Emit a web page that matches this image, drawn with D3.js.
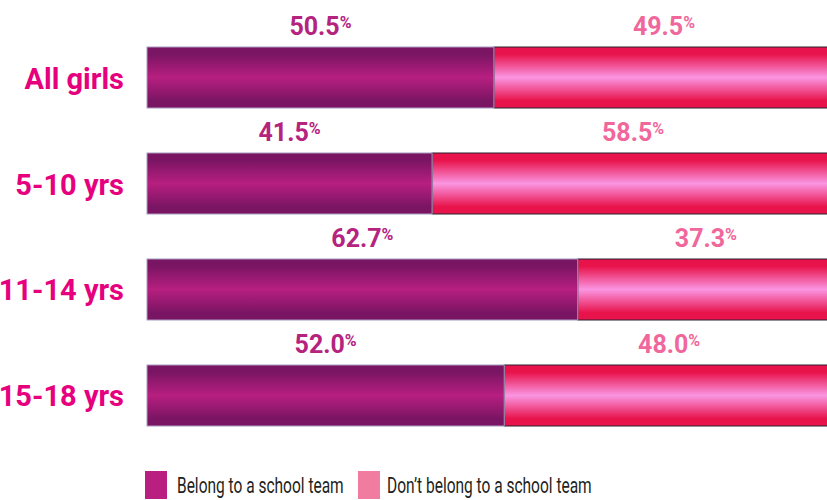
<!DOCTYPE html>
<html>
<head>
<meta charset="utf-8">
<script src="https://cdn.jsdelivr.net/npm/d3@7"></script>
<style>
  html, body { margin: 0; padding: 0; background: #fff; }
  svg { display: block; }
</style>
</head>
<body>
<svg id="chart" width="827" height="500"></svg>
<script>
// Share of girls who belong to a school team, by age group
const categories = ["All girls", "5-10 yrs", "11-14 yrs", "15-18 yrs"];
const belong = [50.5, 41.5, 62.7, 52.0];
const notBelong = [49.5, 58.5, 37.3, 48.0];
const seriesNames = ["Belong to a school team", "Don\u2019t belong to a school team"];

const svg = d3.select("#chart");
const defs = svg.append("defs");

// Glossy vertical gradients for the two segments
function glossy(id, edge, mid) {
  const g = defs.append("linearGradient").attr("id", id)
    .attr("x1", 0).attr("y1", 0).attr("x2", 0).attr("y2", 1);
  g.append("stop").attr("offset", "0%").attr("stop-color", edge);
  g.append("stop").attr("offset", "12%").attr("stop-color", edge);
  g.append("stop").attr("offset", "50%").attr("stop-color", mid);
  g.append("stop").attr("offset", "88%").attr("stop-color", edge);
  g.append("stop").attr("offset", "100%").attr("stop-color", edge);
}
glossy("gradBelong", "#7a1563", "#b71f80");
glossy("gradNot", "#e8134b", "#fa95e2");

const x = d3.scaleLinear().domain([0, 100]).range([147, 834]);
const y = d3.scaleBand().domain(categories).range([47, 426]).paddingInner(0.4245).paddingOuter(0);

const rows = categories.map((c, i) => ({ cat: c, a: belong[i], b: notBelong[i] }));

const g = svg.append("g");
const row = g.selectAll("g.row").data(rows).join("g").attr("class", "row");

// Pink segment (drawn first so the purple edge sits above it)
row.append("rect")
  .attr("x", d => x(d.a))
  .attr("y", d => y(d.cat))
  .attr("width", d => x(d.a + d.b) - x(d.a))
  .attr("height", y.bandwidth())
  .attr("fill", "url(#gradNot)")
  .attr("stroke", "#2b2233")
  .attr("stroke-width", 1);

row.append("rect")
  .attr("x", x(0))
  .attr("y", d => y(d.cat))
  .attr("width", d => x(d.a) - x(0))
  .attr("height", y.bandwidth())
  .attr("fill", "url(#gradBelong)")
  .attr("stroke", "#a79bc0")
  .attr("stroke-width", 1);

// Category labels
row.append("text")
  .attr("x", 124)
  .attr("y", d => y(d.cat) + y.bandwidth() / 2 + 11)
  .attr("text-anchor", "end")
  .attr("font-family", "Roboto, sans-serif")
  .attr("font-weight", "bold")
  .attr("font-size", 29)
  .attr("fill", "#e6007e")
  .text(d => d.cat);

// Value labels centred over each segment
function valueLabel(sel, cx, val, color) {
  const t = sel.append("text")
    .attr("x", cx)
    .attr("y", d => y(d.cat) - 12)
    .attr("text-anchor", "middle")
    .attr("font-family", "Roboto, sans-serif")
    .attr("font-weight", "bold")
    .attr("font-size", 25)
    .attr("fill", color);
  t.append("tspan").text(d => d3.format(".1f")(val(d)));
  t.append("tspan").attr("font-size", 16).attr("dy", -7).text("%");
}
valueLabel(row, d => (x(0) + x(d.a)) / 2, d => d.a, "#b5237f");
valueLabel(row, d => (x(d.a) + x(d.a + d.b)) / 2, d => d.b, "#f0679b");

// Legend (text narrowed horizontally for a condensed look)
const legend = svg.append("g");
const legendColors = ["#b81f80", "#f07ca0"];
const legendX = [145, 358];
const legendItem = legend.selectAll("g").data(seriesNames).join("g")
  .attr("transform", (d, i) => `translate(${legendX[i]},471)`);
legendItem.append("rect")
  .attr("width", 22).attr("height", 28)
  .attr("fill", (d, i) => legendColors[i]);
legendItem.append("text")
  .attr("transform", (d, i) => `translate(${i ? 29 : 32},22) scale(0.705,1)`)
  .attr("font-family", "Roboto, sans-serif")
  .attr("font-size", 22)
  .attr("fill", "#231f20")
  .text(d => d);
</script>
</body>
</html>
